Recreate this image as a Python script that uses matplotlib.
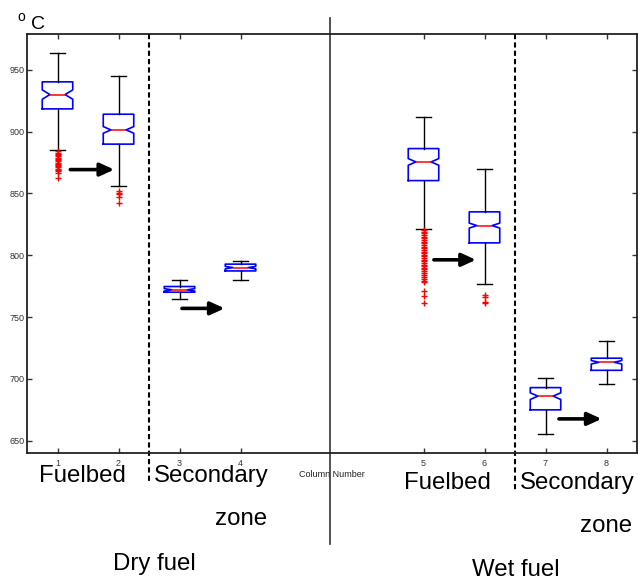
import numpy as np
import matplotlib
matplotlib.use("Agg")
from matplotlib import pyplot as plt
import matplotlib.transforms as mtransforms

plt.rcParams["font.family"] = ["Liberation Sans", "DejaVu Sans"]

# box statistics (deg C)
tick_labels = ["1", "2", "3", "4", "5", "6", "7", "8"]
positions = [1, 2, 3, 4, 7, 8, 9, 10]
medians = [930.0, 901.4, 772.0, 790.0, 875.5, 824.0, 686.0, 713.4]
q1 = [918.4, 889.9, 770.1, 787.3, 860.4, 810.0, 674.9, 706.9]
q3 = [940.3, 914.1, 774.7, 792.8, 886.3, 835.1, 692.9, 716.7]
whis_lo = [885.3, 856.4, 765.0, 780.0, 821.6, 776.8, 655.7, 695.6]
whis_hi = [963.5, 945.1, 780.1, 795.7, 912.2, 870.1, 700.7, 730.7]
notch_lo = [926.2, 898.7, 771.0, 789.0, 872.8, 822.0, 683.3, 712.0]
notch_hi = [933.8, 904.1, 773.0, 791.0, 878.2, 826.0, 688.7, 714.8]
outliers = [
    [884, 883, 882, 881, 880, 879, 878, 877, 876, 875, 874, 873, 872,
     871, 870, 869, 868, 866.5, 862.5],
    [852, 850.5, 849.5, 847, 842],
    [],
    [],
    [820.5, 819, 818, 816.5, 815, 814, 812.5, 811, 810, 808.5, 807, 806,
     804.5, 803, 802, 800.5, 799, 798, 796.5, 795, 794, 792.5, 791, 790,
     788.5, 787, 785.5, 784, 782.5, 781, 779.5, 778, 771, 767, 761.5],
    [767.5, 766, 762, 761],
    [],
    [],
]

# arrows between paired boxes
arrow_x0 = [1.21, 3.04, 7.17, 9.22]
arrow_x1 = [1.93, 3.74, 7.86, 9.92]
arrow_y = [869.3, 757.0, 796.3, 667.6]

W, H = 638, 578
fig = plt.figure(figsize=(W / 100, H / 100), dpi=100)
ax = fig.add_axes([27 / W, 1 - 453 / H, 610 / W, 419 / H])


def px(x, y):
    return x / W, 1 - y / H


stats = []
for i in range(len(medians)):
    stats.append(dict(med=medians[i], q1=q1[i], q3=q3[i],
                      whislo=whis_lo[i], whishi=whis_hi[i],
                      cilo=notch_lo[i], cihi=notch_hi[i],
                      fliers=np.array(outliers[i])))

ax.bxp(stats, positions=positions, widths=0.5, shownotches=True,
       manage_ticks=False,
       boxprops=dict(color="blue", lw=1.2),
       medianprops=dict(color="red", lw=1.1),
       whiskerprops=dict(color="black", lw=1.0),
       capprops=dict(color="black", lw=1.0),
       flierprops=dict(marker="+", markeredgecolor="red", markersize=5,
                       markeredgewidth=1.0, linestyle="none"))

for x0, x1, y in zip(arrow_x0, arrow_x1, arrow_y):
    ax.annotate("", xy=(x1, y), xytext=(x0, y),
                arrowprops=dict(arrowstyle="-|>,head_length=0.7,head_width=0.32",
                                lw=2.6, color="black", mutation_scale=12,
                                shrinkA=0, shrinkB=0))

ax.set_xlim(0.5, 10.5)
ax.set_ylim(640, 979)
ax.set_xticks(positions)
ax.set_xticklabels(tick_labels)
ax.set_yticks([650, 700, 750, 800, 850, 900, 950])
ax.tick_params(direction="in", length=3.5, width=1, colors="#333333",
               labelsize=6.5, top=True, right=True)
ax.tick_params(axis="x", pad=4)
ax.tick_params(axis="y", pad=2)
for s in ax.spines.values():
    s.set_linewidth(1.3)
    s.set_color("#222222")

ax.set_xlabel("Column Number", fontsize=6.5, color="#222222")
ax.xaxis.set_label_coords(0.5, -0.041)

# separator lines
trans = mtransforms.blended_transform_factory(ax.transData, ax.transAxes)
ax.plot([2.5, 2.5], [1.0, -0.072], transform=trans, color="black", lw=1.5,
        linestyle=(0, (2.5, 1.5)), clip_on=False)
ax.plot([8.5, 8.5], [1.0, -0.088], transform=trans, color="black", lw=1.5,
        linestyle=(0, (2.5, 1.5)), clip_on=False)
ax.plot([5.46, 5.46], [1.038, -0.217], transform=trans, color="#333333",
        lw=1.2, clip_on=False)

# unit label
fig.text(*px(17, 21), "o", fontsize=10, ha="left", va="baseline")
fig.text(*px(31, 29), "C", fontsize=14, ha="left", va="baseline")

big = 17.3
labels = [("Fuelbed", 82.5, 482), ("Secondary", 211.5, 482),
          ("zone", 241, 525), ("Dry fuel", 154.5, 570),
          ("Fuelbed", 447.5, 489), ("Secondary", 577, 489),
          ("zone", 606.5, 531.5), ("Wet fuel", 515.5, 576.5)]
for txt, x, y in labels:
    fig.text(*px(x, y), txt, fontsize=big, ha="center", va="baseline")

fig.savefig("out.png", dpi=100)
